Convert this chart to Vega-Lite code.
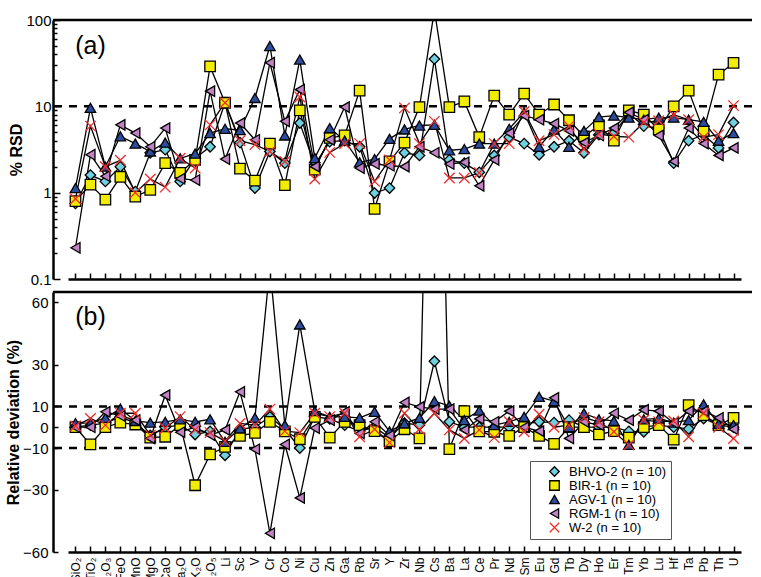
{
  "$schema": "https://vega.github.io/schema/vega-lite/v6.json",
  "padding": {"left": 5, "top": 13, "right": 0, "bottom": 0},
  "spacing": 3,
  "config": {
    "view": {"stroke": null},
    "font": "Liberation Sans",
    "axis": {"grid": false, "domainColor": "black", "tickColor": "black", "labelColor": "black", "titleColor": "black", "domainWidth": 2.5, "tickWidth": 1.5, "labelFont": "Liberation Sans", "titleFont": "Liberation Sans", "labelOverlap": false}
  },
  "resolve": {"scale": {"shape": "independent", "fill": "independent", "stroke": "independent"}},
  "datasets": {
    "rsd": [
      {"i":0,"e":"SiO₂","BHVO-2":0.75,"BIR-1":0.8,"AGV-1":1.13,"RGM-1":0.23,"W-2":0.85},
      {"i":1,"e":"TiO₂","BHVO-2":1.6,"BIR-1":1.24,"AGV-1":9.6,"RGM-1":2.75,"W-2":5.9},
      {"i":2,"e":"Al₂O₃","BHVO-2":1.35,"BIR-1":0.83,"AGV-1":2.0,"RGM-1":1.55,"W-2":2.0},
      {"i":3,"e":"FeO","BHVO-2":2.0,"BIR-1":1.52,"AGV-1":4.5,"RGM-1":6.1,"W-2":2.37},
      {"i":4,"e":"MnO","BHVO-2":1.03,"BIR-1":0.9,"AGV-1":3.7,"RGM-1":4.9,"W-2":1.0},
      {"i":5,"e":"MgO","BHVO-2":2.9,"BIR-1":1.08,"AGV-1":3.0,"RGM-1":3.4,"W-2":1.44},
      {"i":6,"e":"CaO","BHVO-2":3.15,"BIR-1":2.2,"AGV-1":3.8,"RGM-1":5.6,"W-2":1.16},
      {"i":7,"e":"Na₂O","BHVO-2":1.35,"BIR-1":1.7,"AGV-1":2.5,"RGM-1":1.45,"W-2":2.5},
      {"i":8,"e":"K₂O","BHVO-2":2.5,"BIR-1":2.4,"AGV-1":2.83,"RGM-1":1.4,"W-2":1.93},
      {"i":9,"e":"P₂O₅","BHVO-2":3.4,"BIR-1":29,"AGV-1":4.9,"RGM-1":15,"W-2":6.1},
      {"i":10,"e":"Li","BHVO-2":11,"BIR-1":11,"AGV-1":5.5,"RGM-1":2.45,"W-2":11},
      {"i":11,"e":"Sc","BHVO-2":3.8,"BIR-1":1.9,"AGV-1":5.3,"RGM-1":6.4,"W-2":4.0},
      {"i":12,"e":"V","BHVO-2":1.13,"BIR-1":1.38,"AGV-1":12.5,"RGM-1":4.1,"W-2":3.6},
      {"i":13,"e":"Cr","BHVO-2":3.0,"BIR-1":3.7,"AGV-1":50,"RGM-1":32,"W-2":3.0},
      {"i":14,"e":"Co","BHVO-2":2.2,"BIR-1":1.22,"AGV-1":4.6,"RGM-1":6.7,"W-2":2.3},
      {"i":15,"e":"Ni","BHVO-2":6.4,"BIR-1":9.0,"AGV-1":34.8,"RGM-1":15.6,"W-2":12.8},
      {"i":16,"e":"Cu","BHVO-2":2.1,"BIR-1":1.85,"AGV-1":2.52,"RGM-1":2.0,"W-2":1.44},
      {"i":17,"e":"Zn","BHVO-2":3.9,"BIR-1":4.3,"AGV-1":5.6,"RGM-1":4.1,"W-2":2.93},
      {"i":18,"e":"Ga","BHVO-2":4.0,"BIR-1":4.6,"AGV-1":4.0,"RGM-1":9.8,"W-2":3.7},
      {"i":19,"e":"Rb","BHVO-2":3.4,"BIR-1":15.2,"AGV-1":2.25,"RGM-1":1.93,"W-2":3.7},
      {"i":20,"e":"Sr","BHVO-2":0.99,"BIR-1":0.65,"AGV-1":2.45,"RGM-1":2.15,"W-2":1.35},
      {"i":21,"e":"Y","BHVO-2":1.13,"BIR-1":2.3,"AGV-1":4.2,"RGM-1":2.05,"W-2":2.4},
      {"i":22,"e":"Zr","BHVO-2":2.9,"BIR-1":3.8,"AGV-1":5.4,"RGM-1":2.0,"W-2":9.6},
      {"i":23,"e":"Nb","BHVO-2":2.7,"BIR-1":9.8,"AGV-1":6.0,"RGM-1":3.4,"W-2":3.7},
      {"i":24,"e":"Cs","BHVO-2":35.4,"BIR-1":130,"AGV-1":6.1,"RGM-1":2.9,"W-2":6.7},
      {"i":25,"e":"Ba","BHVO-2":2.4,"BIR-1":9.8,"AGV-1":3.1,"RGM-1":2.15,"W-2":1.48},
      {"i":26,"e":"La","BHVO-2":2.2,"BIR-1":11.4,"AGV-1":3.2,"RGM-1":2.25,"W-2":1.48},
      {"i":27,"e":"Ce","BHVO-2":1.72,"BIR-1":4.4,"AGV-1":3.7,"RGM-1":1.2,"W-2":1.7},
      {"i":28,"e":"Pr","BHVO-2":2.7,"BIR-1":13.3,"AGV-1":3.7,"RGM-1":2.4,"W-2":3.7},
      {"i":29,"e":"Nd","BHVO-2":4.4,"BIR-1":8.0,"AGV-1":5.5,"RGM-1":4.9,"W-2":3.7},
      {"i":30,"e":"Sm","BHVO-2":3.7,"BIR-1":14,"AGV-1":8.5,"RGM-1":7.8,"W-2":8.7},
      {"i":31,"e":"Eu","BHVO-2":2.75,"BIR-1":8.0,"AGV-1":3.4,"RGM-1":7.0,"W-2":4.0},
      {"i":32,"e":"Gd","BHVO-2":3.4,"BIR-1":10.5,"AGV-1":5.4,"RGM-1":6.3,"W-2":4.7},
      {"i":33,"e":"Tb","BHVO-2":4.0,"BIR-1":6.9,"AGV-1":3.4,"RGM-1":5.2,"W-2":5.9},
      {"i":34,"e":"Dy","BHVO-2":2.9,"BIR-1":4.5,"AGV-1":5.2,"RGM-1":3.8,"W-2":3.2},
      {"i":35,"e":"Ho","BHVO-2":4.7,"BIR-1":6.0,"AGV-1":7.5,"RGM-1":4.6,"W-2":4.8},
      {"i":36,"e":"Er","BHVO-2":4.9,"BIR-1":4.0,"AGV-1":7.8,"RGM-1":5.6,"W-2":4.5},
      {"i":37,"e":"Tm","BHVO-2":8.3,"BIR-1":9.0,"AGV-1":7.4,"RGM-1":8.5,"W-2":4.4},
      {"i":38,"e":"Yb","BHVO-2":5.9,"BIR-1":8.0,"AGV-1":7.0,"RGM-1":7.0,"W-2":6.5},
      {"i":39,"e":"Lu","BHVO-2":5.6,"BIR-1":5.4,"AGV-1":7.4,"RGM-1":4.6,"W-2":6.8},
      {"i":40,"e":"Hf","BHVO-2":2.2,"BIR-1":10,"AGV-1":7.4,"RGM-1":2.3,"W-2":8.0},
      {"i":41,"e":"Ta","BHVO-2":4.0,"BIR-1":15.2,"AGV-1":7.0,"RGM-1":5.6,"W-2":7.0},
      {"i":42,"e":"Pb","BHVO-2":4.7,"BIR-1":5.2,"AGV-1":6.6,"RGM-1":3.7,"W-2":4.4},
      {"i":43,"e":"Th","BHVO-2":3.3,"BIR-1":23.3,"AGV-1":4.0,"RGM-1":2.7,"W-2":4.7},
      {"i":44,"e":"U","BHVO-2":6.5,"BIR-1":31.8,"AGV-1":4.9,"RGM-1":3.3,"W-2":10.2}
    ],
    "dev": [
      {"i":0,"e":"SiO₂","BHVO-2":0,"BIR-1":0,"AGV-1":2,"RGM-1":0,"W-2":0.6},
      {"i":1,"e":"TiO₂","BHVO-2":1,"BIR-1":-8.3,"AGV-1":2,"RGM-1":0,"W-2":4.2},
      {"i":2,"e":"Al₂O₃","BHVO-2":2,"BIR-1":0,"AGV-1":4.5,"RGM-1":7.4,"W-2":1},
      {"i":3,"e":"FeO","BHVO-2":5,"BIR-1":2.2,"AGV-1":8.9,"RGM-1":5.4,"W-2":6.7},
      {"i":4,"e":"MnO","BHVO-2":2,"BIR-1":1.3,"AGV-1":3,"RGM-1":3.4,"W-2":6.7},
      {"i":5,"e":"MgO","BHVO-2":-4,"BIR-1":-5,"AGV-1":2.2,"RGM-1":-5.4,"W-2":-3.8},
      {"i":6,"e":"CaO","BHVO-2":0,"BIR-1":-4.6,"AGV-1":2.6,"RGM-1":15.4,"W-2":-0.5},
      {"i":7,"e":"Na₂O","BHVO-2":1,"BIR-1":1,"AGV-1":3.8,"RGM-1":-2.4,"W-2":5.1},
      {"i":8,"e":"K₂O","BHVO-2":-3.5,"BIR-1":-27.9,"AGV-1":2.6,"RGM-1":0,"W-2":-1.3},
      {"i":9,"e":"P₂O₅","BHVO-2":-2,"BIR-1":-13.1,"AGV-1":3.8,"RGM-1":-3.8,"W-2":-2.6},
      {"i":10,"e":"Li","BHVO-2":-13.5,"BIR-1":-9.5,"AGV-1":-7,"RGM-1":-1.3,"W-2":-6.7},
      {"i":11,"e":"Sc","BHVO-2":-1,"BIR-1":-4.2,"AGV-1":-0.6,"RGM-1":17,"W-2":1.8},
      {"i":12,"e":"V","BHVO-2":0,"BIR-1":-2.7,"AGV-1":4.5,"RGM-1":-10.6,"W-2":1},
      {"i":13,"e":"Cr","BHVO-2":5,"BIR-1":2.6,"AGV-1":77,"RGM-1":-51,"W-2":8.7},
      {"i":14,"e":"Co","BHVO-2":-1,"BIR-1":-2,"AGV-1":1,"RGM-1":-8.3,"W-2":-1.9},
      {"i":15,"e":"Ni","BHVO-2":-10,"BIR-1":-5.8,"AGV-1":49.4,"RGM-1":-34,"W-2":-2.6},
      {"i":16,"e":"Cu","BHVO-2":5,"BIR-1":5,"AGV-1":7.7,"RGM-1":-0.4,"W-2":6.7},
      {"i":17,"e":"Zn","BHVO-2":4,"BIR-1":-5,"AGV-1":5,"RGM-1":3.4,"W-2":5.1},
      {"i":18,"e":"Ga","BHVO-2":1,"BIR-1":2.6,"AGV-1":5,"RGM-1":7.4,"W-2":6.7},
      {"i":19,"e":"Rb","BHVO-2":-2,"BIR-1":1,"AGV-1":4.5,"RGM-1":-3,"W-2":-4.6},
      {"i":20,"e":"Sr","BHVO-2":0,"BIR-1":-1.9,"AGV-1":7.4,"RGM-1":2.6,"W-2":-1},
      {"i":21,"e":"Y","BHVO-2":-5,"BIR-1":-6.7,"AGV-1":-2,"RGM-1":-4,"W-2":-7.4},
      {"i":22,"e":"Zr","BHVO-2":2,"BIR-1":-1,"AGV-1":1.8,"RGM-1":11.9,"W-2":6.7},
      {"i":23,"e":"Nb","BHVO-2":1,"BIR-1":-5.4,"AGV-1":4.5,"RGM-1":9.8,"W-2":-1},
      {"i":24,"e":"Cs","BHVO-2":31.7,"BIR-1":300,"AGV-1":12.5,"RGM-1":8.7,"W-2":6.7},
      {"i":25,"e":"Ba","BHVO-2":2.6,"BIR-1":-10.5,"AGV-1":10.3,"RGM-1":8.7,"W-2":-1.3},
      {"i":26,"e":"La","BHVO-2":0,"BIR-1":7.7,"AGV-1":3.4,"RGM-1":-1.3,"W-2":-5.4},
      {"i":27,"e":"Ce","BHVO-2":0,"BIR-1":-2,"AGV-1":8,"RGM-1":4,"W-2":-1.3},
      {"i":28,"e":"Pr","BHVO-2":0,"BIR-1":-2.2,"AGV-1":1,"RGM-1":2.6,"W-2":-5},
      {"i":29,"e":"Nd","BHVO-2":0,"BIR-1":-4.2,"AGV-1":2.6,"RGM-1":7.7,"W-2":2.6},
      {"i":30,"e":"Sm","BHVO-2":1.6,"BIR-1":0,"AGV-1":5,"RGM-1":0,"W-2":-2.2},
      {"i":31,"e":"Eu","BHVO-2":2.6,"BIR-1":-4.2,"AGV-1":14.6,"RGM-1":-1.9,"W-2":6.2},
      {"i":32,"e":"Gd","BHVO-2":2.2,"BIR-1":-8,"AGV-1":12.5,"RGM-1":14.1,"W-2":0},
      {"i":33,"e":"Tb","BHVO-2":3.4,"BIR-1":0,"AGV-1":0,"RGM-1":-5.4,"W-2":1},
      {"i":34,"e":"Dy","BHVO-2":0,"BIR-1":0,"AGV-1":6.7,"RGM-1":2.6,"W-2":4.6},
      {"i":35,"e":"Ho","BHVO-2":0,"BIR-1":-3.5,"AGV-1":3.8,"RGM-1":1,"W-2":2.6},
      {"i":36,"e":"Er","BHVO-2":0,"BIR-1":-1.9,"AGV-1":3,"RGM-1":6.7,"W-2":-2.2},
      {"i":37,"e":"Tm","BHVO-2":-2,"BIR-1":-5,"AGV-1":-8.5,"RGM-1":3.4,"W-2":-8.5},
      {"i":38,"e":"Yb","BHVO-2":-2.2,"BIR-1":0,"AGV-1":3.8,"RGM-1":8.3,"W-2":3.5},
      {"i":39,"e":"Lu","BHVO-2":1,"BIR-1":1,"AGV-1":4.2,"RGM-1":7.7,"W-2":2.6},
      {"i":40,"e":"Hf","BHVO-2":0,"BIR-1":-6,"AGV-1":2.2,"RGM-1":2,"W-2":3},
      {"i":41,"e":"Ta","BHVO-2":-0.8,"BIR-1":10.6,"AGV-1":3.4,"RGM-1":7.7,"W-2":-4.6},
      {"i":42,"e":"Pb","BHVO-2":4.2,"BIR-1":5.8,"AGV-1":11,"RGM-1":7.7,"W-2":6.7},
      {"i":43,"e":"Th","BHVO-2":1,"BIR-1":1,"AGV-1":1.6,"RGM-1":4.5,"W-2":0},
      {"i":44,"e":"U","BHVO-2":0,"BIR-1":4.5,"AGV-1":1,"RGM-1":-1,"W-2":-5.4}
    ]
  },
  "vconcat": [
    {
      "width": 699,
      "height": 259,
      "layer": [
        {
          "data": {"values": [{}]},
          "mark": {"type": "rule", "strokeDash": [8, 7], "strokeWidth": 2.5, "color": "black"},
          "encoding": {"y": {"datum": 10, "type": "quantitative", "scale": {"type": "log", "domain": [0.1, 100]},
              "axis": {"title": "% RSD", "titleFontSize": 16, "titleFontWeight": "bold", "titlePadding": 1,
                "values": [0.1,0.2,0.3,0.4,0.5,0.6,0.7,0.8,0.9,1,2,3,4,5,6,7,8,9,10,20,30,40,50,60,70,80,90,100],
                "labelExpr": "datum.value == 0.1 ? '0.1' : datum.value == 1 ? '1' : datum.value == 10 ? '10' : datum.value == 100 ? '100' : ''",
                "tickSize": {"condition": {"test": "datum.value == 0.1 || datum.value == 1 || datum.value == 10 || datum.value == 100", "value": -7}, "value": -4},
                "labelFontSize": 15, "labelPadding": 9, "labelOverlap": false}}}
        },
        {
          "data": {"values": [{}]},
          "mark": {"type": "rule", "strokeWidth": 2.5, "color": "black"},
          "encoding": {"y": {"datum": 100, "type": "quantitative"}}
        },
        {
          "data": {"name": "rsd"},
          "transform": [{"fold": ["BHVO-2", "BIR-1", "AGV-1", "RGM-1", "W-2"], "as": ["s", "v"]}],
          "mark": {"type": "line", "color": "black", "strokeWidth": 1.3, "clip": true},
          "encoding": {
            "x": {"field": "e", "type": "ordinal", "sort": null,
              "scale": {"domain": ["SiO₂","TiO₂","Al₂O₃","FeO","MnO","MgO","CaO","Na₂O","K₂O","P₂O₅","Li","Sc","V","Cr","Co","Ni","Cu","Zn","Ga","Rb","Sr","Y","Zr","Nb","Cs","Ba","La","Ce","Pr","Nd","Sm","Eu","Gd","Tb","Dy","Ho","Er","Tm","Yb","Lu","Hf","Ta","Pb","Th","U"], "range": [15, 688]},
              "axis": {"labels": false, "title": null, "tickSize": -6}},
            "y": {"field": "v", "type": "quantitative"},
            "detail": {"field": "s"},
            "order": {"field": "i", "type": "quantitative"}
          }
        },
        {
          "data": {"name": "rsd"},
          "transform": [{"fold": ["BHVO-2", "BIR-1", "AGV-1", "RGM-1", "W-2"], "as": ["s", "v"]}],
          "mark": {"type": "point", "filled": true, "size": 110, "strokeWidth": 1.3, "opacity": 1, "clip": true},
          "encoding": {
            "x": {"field": "e", "type": "ordinal", "sort": null},
            "y": {"field": "v", "type": "quantitative"},
            "shape": {"field": "s", "type": "nominal", "scale": {"domain": ["BHVO-2","BIR-1","AGV-1","RGM-1","W-2"], "range": ["diamond","square","triangle-up","triangle-left","M-1,-1L1,1M-1,1L1,-1"]}, "legend": null},
            "fill": {"field": "s", "type": "nominal", "scale": {"domain": ["BHVO-2","BIR-1","AGV-1","RGM-1","W-2"], "range": ["#6fd0e0","#f2ec00","#2c4c9e","#c283c6","transparent"]}, "legend": null},
            "stroke": {"field": "s", "type": "nominal", "scale": {"domain": ["BHVO-2","BIR-1","AGV-1","RGM-1","W-2"], "range": ["black","black","black","black","#f42a2a"]}, "legend": null}
          }
        },
        {
          "data": {"values": [{}]},
          "mark": {"type": "text", "fontSize": 25, "font": "Liberation Sans", "align": "center", "baseline": "middle"},
          "encoding": {"x": {"datum": "TiO₂", "type": "ordinal"}, "y": {"datum": 50, "type": "quantitative"}, "text": {"value": "(a)"}}
        }
      ]
    },
    {
      "width": 699,
      "height": 260,
      "layer": [
        {
          "data": {"values": [{}]},
          "mark": {"type": "rule", "strokeDash": [8, 7], "strokeWidth": 2.5, "color": "black"},
          "encoding": {"y": {"datum": 10, "type": "quantitative",
              "scale": {"domain": [-60, 65], "nice": false, "zero": false},
              "axis": {"title": "Relative deviation (%)", "titleFontSize": 16, "titleFontWeight": "bold", "titlePadding": 1,
                "values": [-60,-30,-10,0,10,30,60],
                "tickSize": -5, "labelFontSize": 15, "labelPadding": 10, "labelOverlap": false}}}
        },
        {
          "data": {"values": [{}]},
          "mark": {"type": "rule", "strokeDash": [8, 7], "strokeWidth": 2.5, "color": "black"},
          "encoding": {"y": {"datum": -10, "type": "quantitative"}}
        },
        {
          "data": {"values": [{}]},
          "mark": {"type": "rule", "strokeWidth": 2.5, "color": "black"},
          "encoding": {"y": {"datum": 65, "type": "quantitative"}}
        },
        {
          "data": {"name": "dev"},
          "transform": [{"fold": ["BHVO-2", "BIR-1", "AGV-1", "RGM-1", "W-2"], "as": ["s", "v"]}],
          "mark": {"type": "line", "color": "black", "strokeWidth": 1.3, "clip": true},
          "encoding": {
            "x": {"field": "e", "type": "ordinal", "sort": null,
              "scale": {"domain": ["SiO₂","TiO₂","Al₂O₃","FeO","MnO","MgO","CaO","Na₂O","K₂O","P₂O₅","Li","Sc","V","Cr","Co","Ni","Cu","Zn","Ga","Rb","Sr","Y","Zr","Nb","Cs","Ba","La","Ce","Pr","Nd","Sm","Eu","Gd","Tb","Dy","Ho","Er","Tm","Yb","Lu","Hf","Ta","Pb","Th","U"], "range": [15, 688]},
              "axis": {"title": null, "tickSize": -6, "labelAngle": -90, "labelFontSize": 12, "labelPadding": 11, "labelOverlap": false}},
            "y": {"field": "v", "type": "quantitative"},
            "detail": {"field": "s"},
            "order": {"field": "i", "type": "quantitative"}
          }
        },
        {
          "data": {"name": "dev"},
          "transform": [{"fold": ["BHVO-2", "BIR-1", "AGV-1", "RGM-1", "W-2"], "as": ["s", "v"]}],
          "mark": {"type": "point", "filled": true, "size": 110, "strokeWidth": 1.3, "opacity": 1, "clip": true},
          "encoding": {
            "x": {"field": "e", "type": "ordinal", "sort": null},
            "y": {"field": "v", "type": "quantitative"},
            "shape": {"field": "s", "type": "nominal", "scale": {"domain": ["BHVO-2","BIR-1","AGV-1","RGM-1","W-2"], "range": ["diamond","square","triangle-up","triangle-left","M-1,-1L1,1M-1,1L1,-1"]},
              "legend": {"orient": "none", "legendX": 477, "legendY": 169, "title": null, "fillColor": "white", "strokeColor": "#555", "padding": 4, "labelFontSize": 13, "labelFont": "Liberation Sans", "symbolSize": 90, "symbolStrokeWidth": 1.3, "rowPadding": -2, "symbolOffset": 14, "labelOffset": 8, "labelExpr": "datum.label + ' (n = 10)  '"}},
            "fill": {"field": "s", "type": "nominal", "scale": {"domain": ["BHVO-2","BIR-1","AGV-1","RGM-1","W-2"], "range": ["#6fd0e0","#f2ec00","#2c4c9e","#c283c6","transparent"]},
              "legend": {"orient": "none", "legendX": 477, "legendY": 169, "title": null, "fillColor": "white", "strokeColor": "#555", "padding": 4, "labelFontSize": 13, "labelFont": "Liberation Sans", "symbolSize": 90, "symbolStrokeWidth": 1.3, "rowPadding": -2, "symbolOffset": 14, "labelOffset": 8, "labelExpr": "datum.label + ' (n = 10)  '"}},
            "stroke": {"field": "s", "type": "nominal", "scale": {"domain": ["BHVO-2","BIR-1","AGV-1","RGM-1","W-2"], "range": ["black","black","black","black","#f42a2a"]},
              "legend": {"orient": "none", "legendX": 477, "legendY": 169, "title": null, "fillColor": "white", "strokeColor": "#555", "padding": 4, "labelFontSize": 13, "labelFont": "Liberation Sans", "symbolSize": 90, "symbolStrokeWidth": 1.3, "rowPadding": -2, "symbolOffset": 14, "labelOffset": 8, "labelExpr": "datum.label + ' (n = 10)  '"}}
          }
        },
        {
          "data": {"values": [{}]},
          "mark": {"type": "text", "fontSize": 25, "font": "Liberation Sans", "align": "center", "baseline": "middle"},
          "encoding": {"x": {"datum": "TiO₂", "type": "ordinal"}, "y": {"datum": 53, "type": "quantitative"}, "text": {"value": "(b)"}}
        }
      ]
    }
  ]
}
